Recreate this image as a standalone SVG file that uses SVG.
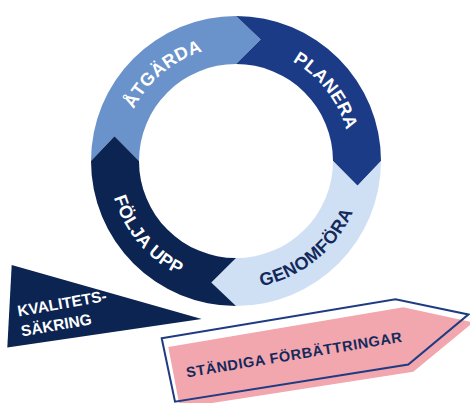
<svg xmlns="http://www.w3.org/2000/svg" width="470" height="403" viewBox="0 0 470 403">
  <style>
    .lbl { font-family: "Liberation Sans", Arial, sans-serif; font-weight: 700; font-size: 18px; letter-spacing: 0.4px; }
    .white { fill: #ffffff; }
    .navytxt { fill: #14295b; }
    .small { font-family: "Liberation Sans", Arial, sans-serif; font-weight: 700; font-size: 15.5px; }
  </style>
  <defs>
    <path id="arcAtgarda" d="M121.5,161 A114.5,114.5 0 0 1 255.88,48.24"/>
    <path id="arcPlanera" d="M240,46.57 A114.5,114.5 0 0 1 348,184.8"/>
    <path id="arcGenomfora" d="M211.67,286.16 A127.5,127.5 0 0 0 363.48,163.23"/>
    <path id="arcFolja" d="M110.44,138.86 A127.5,127.5 0 0 0 236,288.5"/>
  </defs>
  <rect width="470" height="403" fill="#ffffff"/>

  <g id="atgarda">
    <path d="M91,161 A145,145 0 0 1 236,16 L260.7,39.5 L236,64 A97,97 0 0 0 139,161 L114.5,136.3 Z" fill="#6a92cb"/>
    <text class="lbl white"><textPath href="#arcAtgarda" startOffset="50%" text-anchor="middle">ÅTGÄRDA</textPath></text>
  </g>
  <g id="planera">
    <path d="M236,16 A145,145 0 0 1 381,161 L357.5,185.7 L333,161 A97,97 0 0 0 236,64 L260.7,39.5 Z" fill="#1b3b87"/>
    <text class="lbl white"><textPath href="#arcPlanera" startOffset="50%" text-anchor="middle">PLANERA</textPath></text>
  </g>
  <g id="genomfora">
    <path d="M381,161 A145,145 0 0 1 236,306 L211.3,282.5 L236,258 A97,97 0 0 0 333,161 L357.5,185.7 Z" fill="#cfe0f4"/>
    <text class="lbl navytxt"><textPath href="#arcGenomfora" startOffset="50%" text-anchor="middle">GENOMFÖRA</textPath></text>
  </g>
  <g id="folja-upp">
    <path d="M236,306 A145,145 0 0 1 91,161 L114.5,136.3 L139,161 A97,97 0 0 0 236,258 L211.3,282.5 Z" fill="#0b2452"/>
    <text class="lbl white"><textPath href="#arcFolja" startOffset="50%" text-anchor="middle">FÖLJA UPP</textPath></text>
  </g>

  <g id="kvalitetssakring">
    <polygon points="11.7,265 201.7,319 7.3,347.5" fill="#0b2452"/>
    <text class="small white" transform="translate(18.5,316.5) rotate(-10)">KVALITETS-</text>
    <text class="small white" transform="translate(22,336.5) rotate(-10)">SÄKRING</text>
  </g>

  <g id="standiga-forbattringar">
    <polygon points="168.3,347 403.3,307.3 473,322.5 413.3,371.7 180,408" fill="#f2a6ae"/>
    <polygon points="161.7,338.3 395.5,299.3 468.3,314.5 408.3,364.5 175,401.7" fill="none" stroke="#1f3b82" stroke-width="2" stroke-linejoin="miter"/>
    <text class="small navytxt" style="font-size:14.5px;letter-spacing:0.6px" transform="translate(187,377.5) rotate(-9.4)">STÄNDIGA FÖRBÄTTRINGAR</text>
  </g>
</svg>
